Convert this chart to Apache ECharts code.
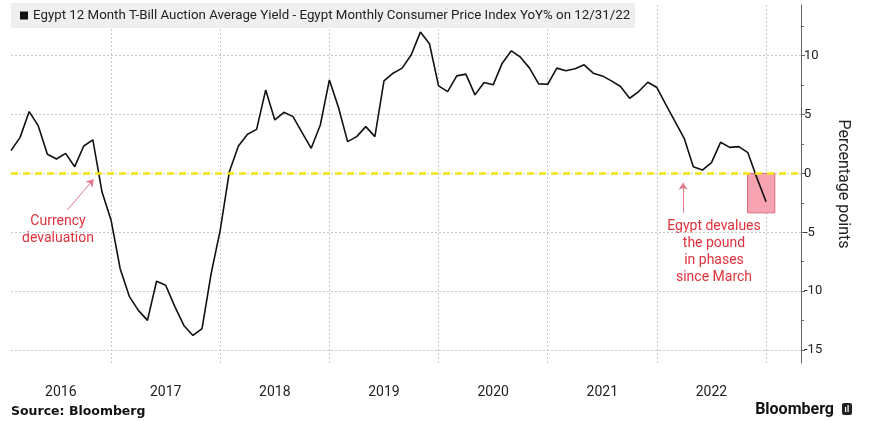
<!DOCTYPE html>
<html lang="en">
<head>
<meta charset="UTF-8">
<title>Egypt T-Bill yield minus CPI</title>
<style>
  html, body { margin: 0; padding: 0; background: #fff; }
  #chart { width: 869px; height: 421px; }
</style>
</head>
<body>
<div id="chart"></div>
<script src="https://cdn.jsdelivr.net/npm/echarts@6/dist/echarts.min.js"></script>
<script>
// 12m T-bill auction avg yield minus CPI YoY, percentage points, Jan..Dec of each year
const years = [2016, 2017, 2018, 2019, 2020, 2021, 2022];
const v2016 = [1.93, 3.06, 5.25, 4.03, 1.62, 1.22, 1.70, 0.57, 2.33, 2.84, -1.56, -3.97];
const v2017 = [-8.09, -10.44, -11.63, -12.48, -9.16, -9.50, -11.29, -12.91, -13.76, -13.19, -8.51, -4.82];
const v2018 = [0.14, 2.33, 3.32, 3.74, 7.09, 4.54, 5.19, 4.82, 3.46, 2.13, 4.11, 7.94];
const v2019 = [5.59, 2.70, 3.12, 3.97, 3.12, 7.86, 8.51, 8.94, 10.07, 12.0, 11.01, 7.43];
const v2020 = [6.95, 8.28, 8.43, 6.67, 7.72, 7.52, 9.36, 10.41, 9.87, 8.94, 7.60, 7.57];
const v2021 = [8.94, 8.71, 8.88, 9.22, 8.51, 8.28, 7.86, 7.38, 6.38, 6.95, 7.74, 7.29];
const v2022 = [5.82, 4.40, 2.98, 0.57, 0.28, 0.91, 2.64, 2.21, 2.27, 1.76, -0.40, -2.41];

const yearLabels = ['2016', '2017', '2018', '2019', '2020', '2021', '2022'];
const yLabelTicks = [-15, -10, -5, 0, 5, 10];
const yMinorTicks = [-12.5, -7.5, -2.5, 2.5, 7.5, 12.5];

// annotations (data coordinates: fractional year, percentage points)
const devalBox = [[2022.83, 0], [2023.08, -3.35]];
const arrowCurrency = [[2016.60, -3.1], [2016.84, -0.5]];
const arrowPound = [[2022.24, -3.35], [2022.24, -0.8]];

const seriesName = 'Egypt 12 Month T-Bill Auction Average Yield - Egypt Monthly Consumer Price Index YoY% on 12/31/22';
const FONT = 'Roboto, "Liberation Sans", sans-serif';

const byYear = [v2016, v2017, v2018, v2019, v2020, v2021, v2022];
const points = [];
byYear.forEach(function (vals, k) {
    vals.forEach(function (v, m) {
        // month-end position on the year scale
        points.push([years[k] + (m + 1) / 12, v]);
    });
});

const xMin = years[0] + 1 / 12;
const xMax = 2023.32;
const yearLines = years.slice(1).concat([2023]);
const labelPos = years.map(function (y, i) { return i === 0 ? y + 0.54 : y + 0.5; });

const chart = echarts.init(document.getElementById('chart'));
chart.setOption({
    animation: false,
    textStyle: { fontFamily: FONT },
    grid: { left: 11, right: 68, top: 5, bottom: 58 },
    legend: {
        data: [{ name: seriesName, icon: 'rect' }],
        left: 11, top: 3,
        itemWidth: 8, itemHeight: 8,
        padding: [6, 5, 6, 9],
        backgroundColor: '#efefef',
        textStyle: { fontSize: 13.3, color: '#222', fontFamily: FONT },
        selectedMode: false
    },
    xAxis: {
        type: 'value',
        min: xMin, max: xMax,
        axisLine: { show: false },
        axisTick: { show: false, customValues: yearLines },
        splitLine: { show: true, lineStyle: { color: '#c9c9c9', type: [2, 2], width: 1 } },
        axisLabel: {
            customValues: labelPos,
            formatter: function (v) { return yearLabels[years.indexOf(Math.floor(v))]; },
            fontSize: 14, color: '#222', margin: 22
        }
    },
    yAxis: [{
        type: 'value',
        position: 'right',
        min: -16.1, max: 14.3,
        axisLine: { show: true, lineStyle: { color: '#666', width: 1 } },
        axisTick: { show: true, customValues: yLabelTicks, length: 4, lineStyle: { color: '#666' } },
        axisLabel: { customValues: yLabelTicks, fontSize: 13, color: '#222', margin: 3 },
        splitLine: { show: true, lineStyle: { color: '#c9c9c9', type: [2, 2], width: 1 } },
        name: 'Percentage points',
        nameLocation: 'middle',
        nameRotate: -90,
        nameGap: 34,
        nameTextStyle: { fontSize: 16, color: '#222' }
    }, {
        type: 'value',
        position: 'right',
        min: -16.1, max: 14.3,
        axisLine: { show: false },
        axisTick: { show: true, customValues: yMinorTicks, length: 3, lineStyle: { color: '#666' } },
        axisLabel: { show: false },
        splitLine: { show: false }
    }],
    series: [{
        name: seriesName,
        type: 'line',
        data: points,
        showSymbol: false,
        itemStyle: { color: '#111' },
        lineStyle: { color: '#111', width: 1.6 },
        markArea: {
            silent: true,
            itemStyle: { color: '#f6a2b1', borderColor: '#dd6b80', borderWidth: 1 },
            data: [[{ coord: devalBox[0] }, { coord: devalBox[1] }]]
        },
        markLine: {
            silent: true,
            symbol: 'none',
            label: { show: false },
            data: [
                { yAxis: 0, lineStyle: { color: '#f2e40c', width: 2.5, type: [7, 5] } },
                [
                    { coord: arrowCurrency[0], symbol: 'none', lineStyle: { color: '#e0788c', width: 1, type: 'solid' } },
                    { coord: arrowCurrency[1], symbol: 'arrow', symbolSize: 7 }
                ],
                [
                    { coord: arrowPound[0], symbol: 'none', lineStyle: { color: '#e0788c', width: 1, type: 'solid' } },
                    { coord: arrowPound[1], symbol: 'arrow', symbolSize: 7 }
                ]
            ]
        }
    }],
    graphic: [
        {
            type: 'text',
            x: 58, y: 230,
            style: {
                text: 'Currency\ndevaluation',
                align: 'center', verticalAlign: 'middle',
                fontSize: 14, lineHeight: 16.5, fill: '#e0323c', fontFamily: FONT
            }
        },
        {
            type: 'text',
            x: 714, y: 252,
            style: {
                text: 'Egypt devalues\nthe pound\nin phases\nsince March',
                align: 'center', verticalAlign: 'middle',
                fontSize: 14, lineHeight: 16.7, fill: '#e0323c', fontFamily: FONT
            }
        },
        {
            type: 'text', x: 11, y: 412,
            style: {
                text: 'Source: Bloomberg', verticalAlign: 'middle',
                fontSize: 12.5, fontWeight: 'bold', fill: '#111', fontFamily: '"DejaVu Sans", sans-serif'
            }
        },
        {
            type: 'text', x: 834, y: 410,
            style: {
                text: 'Bloomberg', align: 'right', verticalAlign: 'middle',
                fontSize: 16, fontWeight: 'bold', fill: '#111', fontFamily: FONT
            }
        },
        { type: 'rect', shape: { x: 842, y: 403, width: 10, height: 12, r: 2 }, style: { fill: '#222' } },
        { type: 'rect', shape: { x: 845, y: 407, width: 1.2, height: 5 }, style: { fill: '#fff' } },
        { type: 'rect', shape: { x: 847.5, y: 405, width: 1.2, height: 7 }, style: { fill: '#fff' } }
    ]
});
</script>
</body>
</html>
